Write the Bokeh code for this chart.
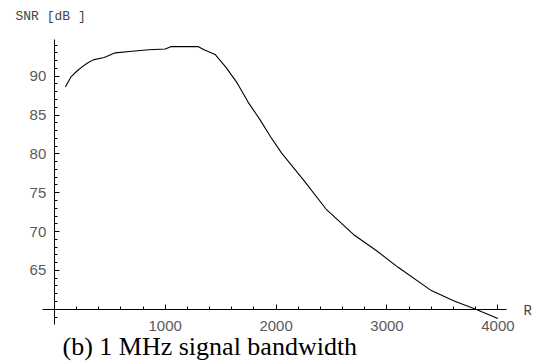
from bokeh.plotting import figure
from bokeh.models import Range1d, FixedTicker, Label
from bokeh.embed import file_html
from bokeh.resources import INLINE

# data
r_values = [100, 150, 200, 250, 300, 350, 450, 550, 700, 850, 1000, 1050, 1300,
            1350, 1450, 1550, 1650, 1750, 1850, 1950, 2050, 2250, 2450, 2700,
            2900, 3100, 3400, 3600, 3800, 4000]
snr_db = [88.6, 89.9, 90.6, 91.2, 91.7, 92.1, 92.4, 93.0, 93.2, 93.4, 93.5, 93.8,
          93.8, 93.4, 92.8, 91.1, 89.1, 86.6, 84.5, 82.2, 80.1, 76.6, 72.9,
          69.6, 67.6, 65.4, 62.4, 61.1, 60.0, 58.8]
x_major_ticks = [1000, 2000, 3000, 4000]
x_minor_ticks = [200, 400, 600, 800, 1200, 1400, 1600, 1800, 2200, 2400, 2600,
                 2800, 3200, 3400, 3600, 3800]
y_major_ticks = [65, 70, 75, 80, 85, 90]
y_minor_ticks = [59, 61, 62, 63, 64, 66, 67, 68, 69, 71, 72, 73, 74, 76, 77, 78,
                 79, 81, 82, 83, 84, 86, 87, 88, 89, 91, 92, 93, 94]

p = figure(width=535, height=363, output_backend="svg", toolbar_location=None,
           x_range=Range1d(-485, 4339), y_range=Range1d(53.02, 99.74),
           min_border_left=0, min_border_right=0, min_border_top=0,
           min_border_bottom=0)
p.grid.visible = False
p.outline_line_color = None
p.background_fill_color = "white"

p.line(r_values, snr_db, line_color="black", line_width=1.1)

for ax in (p.xaxis[0], p.yaxis[0]):
    ax.axis_line_color = "black"
    ax.axis_line_width = 1
    ax.major_tick_out = 0
    ax.major_tick_in = 5
    ax.minor_tick_out = 0
    ax.minor_tick_in = 3
    ax.major_tick_line_color = "black"
    ax.minor_tick_line_color = "black"
    ax.major_label_text_font = "Liberation Sans"
    ax.major_label_text_font_size = "15px"
    ax.major_label_text_color = "#5a5a5a"

p.xaxis.fixed_location = 60
p.yaxis.fixed_location = 0
p.xaxis.bounds = (-106, 4077)
p.yaxis.bounds = (58, 94.7)
p.xaxis.ticker = FixedTicker(ticks=x_major_ticks, minor_ticks=x_minor_ticks)
p.yaxis.ticker = FixedTicker(ticks=y_major_ticks, minor_ticks=y_minor_ticks)
p.xaxis.major_label_standoff = 12
p.yaxis.major_label_standoff = 8

p.add_layout(Label(x=-350, y=97.68, text="SNR [dB ]", text_font="Liberation Mono",
                   text_font_size="13px", text_color="#444444",
                   text_baseline="middle"))
p.add_layout(Label(x=4231, y=59.78, text="R", text_font="Liberation Mono",
                   text_font_size="14px", text_color="#444444",
                   text_baseline="middle"))
p.add_layout(Label(x=74, y=55.21, text="(b) 1 MHz signal bandwidth",
                   text_font="Liberation Serif", text_font_size="26px",
                   text_color="black", text_baseline="alphabetic"))

open("out.html", "w").write(file_html(p, INLINE))
